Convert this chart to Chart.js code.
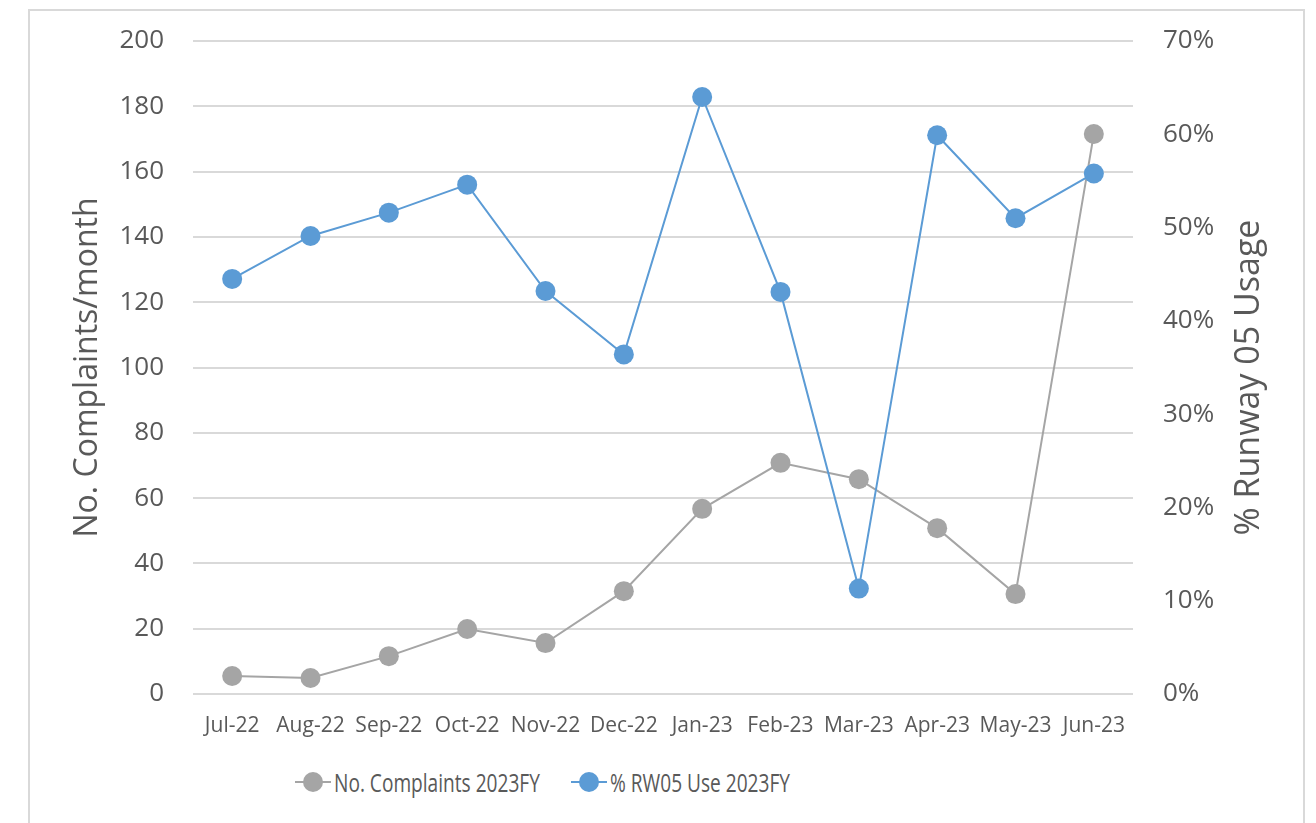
<!DOCTYPE html>
<html>
<head>
<meta charset="utf-8">
<script src="https://cdn.jsdelivr.net/npm/chart.js@4.4.0/dist/chart.umd.min.js"></script>
<style>
    html, body { margin: 0; padding: 0; background: #fff; }
    body { width: 1316px; height: 823px; position: relative; overflow: hidden; font-family: "Open Sans", sans-serif; }
    #frame { position: absolute; left: 28px; top: 9px; width: 1277px; height: 830px; border: 2px solid #d9d9d9; box-sizing: border-box; }
    #chart-wrap { position: absolute; left: 0; top: 0; width: 1316px; height: 750px; }
    #legend { position: absolute; top: 765px; left: 0; width: 1316px; height: 34px; color: #595959; font-size: 26px; }
    .legend-item { position: absolute; top: 0; display: flex; align-items: center; height: 34px; white-space: nowrap; }
    .legend-mark { position: relative; width: 36px; height: 34px; margin-right: 3px; flex: none; }
    .legend-mark .ln { position: absolute; left: 0; right: 0; top: 16px; height: 2px; }
    .legend-mark .dot { position: absolute; left: 8px; top: 7px; width: 20px; height: 20px; border-radius: 50%; }
    .legend-text { display: inline-block; transform: scaleX(0.735); transform-origin: left center; }
</style>
</head>
<body>
<div id="frame"></div>
<div id="chart-wrap"><canvas id="rwChart" width="1316" height="750"></canvas></div>
<div id="legend"></div>
<script>
// Chart data
const months = ['Jul-22', 'Aug-22', 'Sep-22', 'Oct-22', 'Nov-22', 'Dec-22', 'Jan-23', 'Feb-23', 'Mar-23', 'Apr-23', 'May-23', 'Jun-23'];
const complaints = [5.5, 4.9, 11.6, 19.9, 15.6, 31.5, 56.7, 70.8, 65.8, 50.8, 30.6, 171.5];
const rw05Usage = [44.5, 49.1, 51.6, 54.6, 43.2, 36.4, 64.0, 43.1, 11.3, 59.9, 51.0, 55.8];
const seriesNames = ['No. Complaints 2023FY', '% RW05 Use 2023FY'];
const seriesColors = ['#a5a5a5', '#5b9bd5'];
const leftTicks = { max: 200, step: 20 };
const rightTicks = { max: 70, step: 10 };
const leftTitle = 'No. Complaints/month';
const rightTitle = '% Runway 05 Usage';

const textColor = '#595959';
const gridColor = '#d9d9d9';
const clear = 'rgba(0,0,0,0)';

// Right axis title reads bottom-to-top like the left one (Chart.js flips it otherwise)
const rightTitlePlugin = {
    id: 'rightTitle',
    afterDraw(chart) {
        const { ctx, chartArea } = chart;
        ctx.save();
        ctx.translate(1249, (chartArea.top + chartArea.bottom) / 2 + 10);
        ctx.rotate(-Math.PI / 2);
        ctx.font = '34px "Open Sans"';
        ctx.fillStyle = textColor;
        ctx.textAlign = 'center';
        ctx.textBaseline = 'middle';
        ctx.fillText(rightTitle, 0, 0);
        ctx.restore();
    }
};

// Build chart
const ctx = document.getElementById('rwChart').getContext('2d');
const rwChart = new Chart(ctx, {
    type: 'line',
    data: {
        labels: months,
        datasets: [
            {
                label: seriesNames[0],
                data: complaints,
                yAxisID: 'y',
                borderColor: seriesColors[0],
                backgroundColor: seriesColors[0],
                borderWidth: 2,
                pointRadius: 10,
                pointHoverRadius: 10,
                pointBorderWidth: 0,
                tension: 0,
                order: 2
            },
            {
                label: seriesNames[1],
                data: rw05Usage,
                yAxisID: 'y1',
                borderColor: seriesColors[1],
                backgroundColor: seriesColors[1],
                borderWidth: 2,
                pointRadius: 10,
                pointHoverRadius: 10,
                pointBorderWidth: 0,
                tension: 0,
                order: 1
            }
        ]
    },
    options: {
        responsive: false,
        animation: false,
        layout: {
            padding: { left: 30, right: 30, top: 41, bottom: 0 }
        },
        plugins: {
            legend: { display: false },
            tooltip: { enabled: false }
        },
        scales: {
            x: {
                offset: true,
                grid: { display: false, drawTicks: false },
                border: { display: false },
                ticks: {
                    color: textColor,
                    font: { family: 'Open Sans', size: 21 },
                    padding: 19,
                    maxRotation: 0,
                    autoSkip: false
                },
                afterFit: (scale) => { scale.height = 56; }
            },
            y: {
                position: 'left',
                min: 0,
                max: leftTicks.max,
                grid: { color: gridColor, lineWidth: 2, drawTicks: true, tickLength: 16, tickColor: clear },
                border: { display: false },
                ticks: {
                    stepSize: leftTicks.step,
                    color: textColor,
                    font: { family: 'Open Sans', size: 26 },
                    padding: 13
                },
                title: {
                    display: true,
                    text: leftTitle,
                    color: textColor,
                    font: { family: 'Open Sans', size: 32 },
                    padding: { top: 39, bottom: 0 }
                },
                afterFit: (scale) => { scale.width = 163; }
            },
            y1: {
                position: 'right',
                min: 0,
                max: rightTicks.max,
                grid: { display: false, drawTicks: true, tickLength: 16, tickColor: clear },
                border: { display: false },
                ticks: {
                    stepSize: rightTicks.step,
                    color: textColor,
                    font: { family: 'Open Sans', size: 26 },
                    padding: 14,
                    callback: (value) => `${value}%`
                },
                afterFit: (scale) => { scale.width = 153; }
            }
        }
    },
    plugins: [rightTitlePlugin]
});

// HTML legend (line with marker, Excel style)
const legendEl = document.getElementById('legend');
const legendLefts = [295, 571];
legendEl.innerHTML = seriesNames.map((name, i) => `
    <div class="legend-item" style="left:${legendLefts[i]}px">
        <div class="legend-mark">
            <div class="ln" style="background:${seriesColors[i]}"></div>
            <div class="dot" style="background:${seriesColors[i]}"></div>
        </div>
        <span class="legend-text">${name}</span>
    </div>
`).join('');
</script>
</body>
</html>
